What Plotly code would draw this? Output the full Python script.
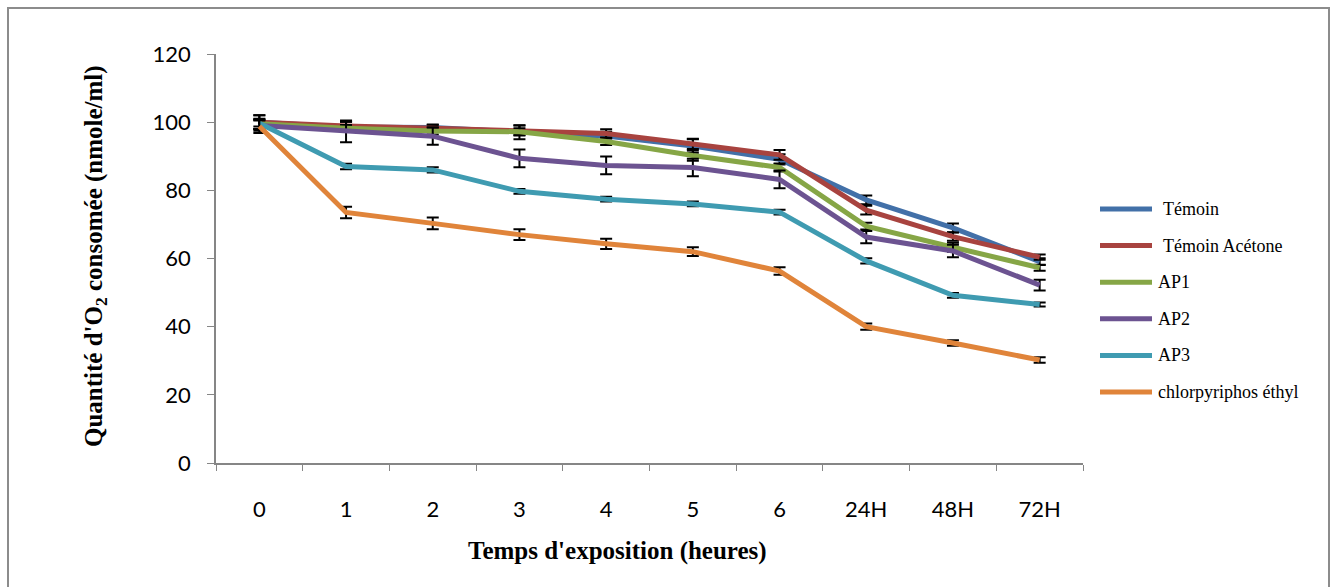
import plotly.graph_objects as go

# Exposure times (category axis)
categories = ["0", "1", "2", "3", "4", "5", "6", "24H", "48H", "72H"]

# O2 consumed (nmole/ml) per treatment
temoin = [100.0, 98.6, 98.4, 97.0, 95.9, 93.0, 89.1, 77.2, 69.0, 59.1]
temoin_acetone = [100.0, 98.9, 98.2, 97.6, 96.7, 93.6, 90.4, 74.2, 66.4, 60.4]
ap1 = [99.5, 98.2, 97.4, 97.2, 94.3, 90.2, 86.7, 69.5, 63.3, 57.3]
ap2 = [99.0, 97.3, 95.9, 89.4, 87.3, 86.7, 83.2, 66.3, 62.2, 52.2]
ap3 = [99.7, 87.0, 86.0, 79.7, 77.4, 76.0, 73.6, 59.3, 49.2, 46.5]
chlorpyriphos = [98.8, 73.5, 70.3, 67.0, 64.3, 62.0, 56.3, 40.0, 35.2, 30.2]

# Standard errors
err_temoin = [2.0, 1.5, 0.9, 2.0, 1.3, 2.0, 1.5, 1.3, 1.3, 1.0]
err_temoin_acetone = [2.0, 1.2, 1.0, 1.5, 1.2, 1.5, 1.4, 1.3, 1.2, 0.8]
err_ap1 = [1.5, 1.0, 1.0, 1.0, 1.0, 1.5, 1.2, 1.0, 1.3, 0.9]
err_ap2 = [1.5, 3.2, 2.5, 2.6, 2.6, 2.6, 2.6, 1.8, 1.8, 1.6]
err_ap3 = [1.0, 0.8, 0.8, 0.7, 0.7, 0.7, 0.7, 0.8, 0.7, 0.6]
err_chlorpyriphos = [2.0, 1.7, 1.7, 1.6, 1.5, 1.3, 1.1, 0.9, 0.8, 0.8]

series = [
    ("Témoin", temoin, err_temoin, "#4270A8"),
    ("Témoin Acétone", temoin_acetone, err_temoin_acetone, "#A8433F"),
    ("AP1", ap1, err_ap1, "#86A646"),
    ("AP2", ap2, err_ap2, "#6C5391"),
    ("AP3", ap3, err_ap3, "#3F9BB1"),
    ("chlorpyriphos éthyl", chlorpyriphos, err_chlorpyriphos, "#E0843A"),
]

fig = go.Figure()
for name, vals, errs, color in series:
    fig.add_trace(go.Scatter(
        x=categories, y=vals, name=name, mode="lines",
        line=dict(color=color, width=5),
        error_y=dict(type="data", array=errs, visible=True,
                     color="black", thickness=2, width=6),
        showlegend=False,
    ))

L, R, T, B = 216, 247, 54, 124
W, H = 1330, 587
pw, ph = W - L - R, H - T - B

def px_x(p):
    return (p - L) / pw

def px_y(p):
    return (H - B - p) / ph

# Legend drawn as line samples with labels on the right of the plot
shapes = [
    dict(type="rect", xref="paper", yref="paper",
         x0=px_x(8), x1=px_x(1329), y0=px_y(600), y1=px_y(8),
         line=dict(color="#8C8C8C", width=2), layer="below"),
]
annotations = []
legend_top, legend_step = 209, 36.6
for k, (name, vals, errs, color) in enumerate(series):
    yy = px_y(legend_top + k * legend_step)
    shapes.append(dict(type="line", xref="paper", yref="paper",
                       x0=px_x(1100), x1=px_x(1152), y0=yy, y1=yy,
                       line=dict(color=color, width=5)))
    tx = 1161 if name.startswith("Témoin") else 1156
    annotations.append(dict(text=name, xref="paper", yref="paper",
                            x=px_x(tx), y=yy, xanchor="left",
                            yanchor="middle", showarrow=False,
                            font=dict(family="Liberation Serif", size=18,
                                      color="black")))

annotations += [
    dict(text="Quantité d'O<sub>2</sub> consomée (nmole/ml)",
         xref="paper", yref="paper", x=px_x(95), y=px_y(256),
         xanchor="center", yanchor="middle", textangle=-90,
         showarrow=False,
         font=dict(family="Liberation Serif", size=25, color="black",
                   weight="bold")),
    dict(text="Temps d'exposition (heures)",
         xref="paper", yref="paper", x=px_x(617), y=px_y(551),
         xanchor="center", yanchor="middle", showarrow=False,
         font=dict(family="Liberation Serif", size=25, color="black",
                   weight="bold")),
]

fig.update_layout(
    width=W, height=H,
    margin=dict(l=L, r=R, t=T, b=B),
    paper_bgcolor="white", plot_bgcolor="white",
    showlegend=False,
    xaxis=dict(
        type="category", range=[-0.5, 9.5],
        showline=True, linecolor="#868686", linewidth=1.5,
        ticks="outside", tickson="boundaries", ticklen=6, tickcolor="#868686",
        tickfont=dict(family="Lato", size=22, color="black"),
        ticklabelstandoff=26,
        showgrid=False, zeroline=False,
    ),
    yaxis=dict(
        range=[0, 120], dtick=20,
        showline=True, linecolor="#868686", linewidth=1.5,
        ticks="outside", ticklen=7, tickcolor="#868686",
        tickfont=dict(family="Lato", size=22, color="black"),
        ticklabelstandoff=12,
        showgrid=False, zeroline=False,
    ),
    shapes=shapes,
    annotations=annotations,
)

fig.write_html("out.html")
